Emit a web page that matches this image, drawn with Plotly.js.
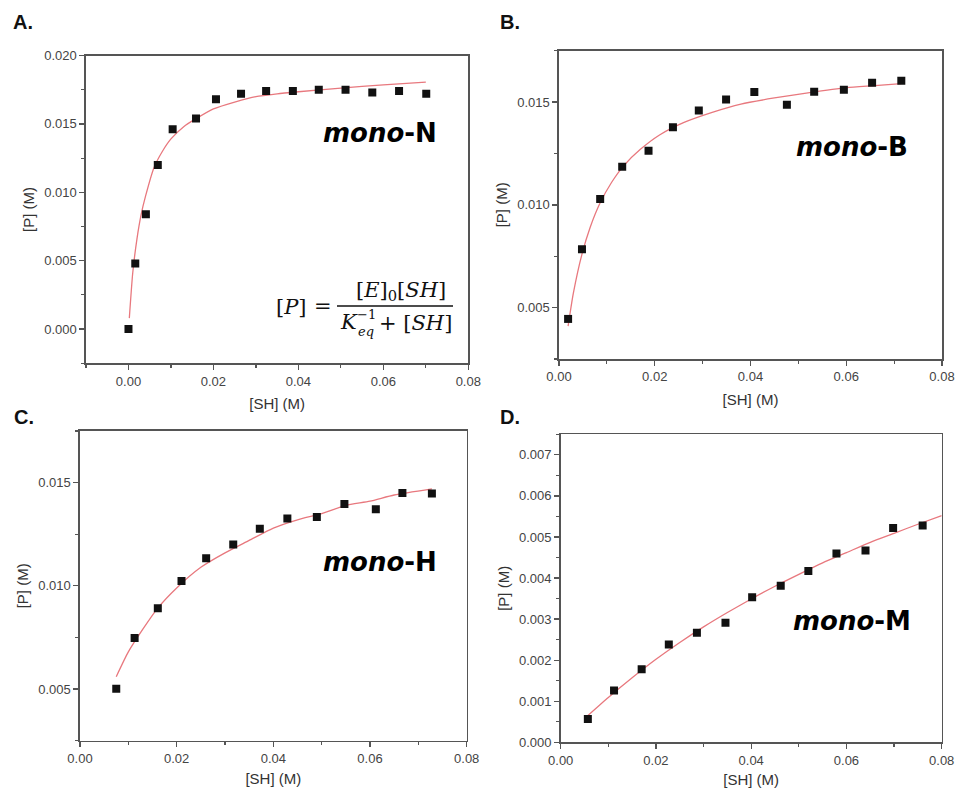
<!DOCTYPE html>
<html>
<head>
<meta charset="utf-8">
<script src="https://cdn.plot.ly/plotly-3.0.1.min.js"></script>
<style>
  html, body { margin: 0; padding: 0; background: #fff; }
  #chart { width: 956px; height: 791px; }
</style>
</head>
<body>
<div id="chart"></div>
<script>
// ---------- Data ----------
// Panel A: mono-N
const shA = [0.0000, 0.0016, 0.0041, 0.0069, 0.0104, 0.0159, 0.0206, 0.0265, 0.0324, 0.0387, 0.0448, 0.0511, 0.0574, 0.0637, 0.0701];
const pA  = [0.0000, 0.0048, 0.0084, 0.0120, 0.0146, 0.0154, 0.0168, 0.0172, 0.0174, 0.0174, 0.0175, 0.0175, 0.0173, 0.0174, 0.0172];
const fitShA = [0.0002, 0.001, 0.002, 0.003, 0.004, 0.006, 0.008, 0.010, 0.013, 0.016, 0.020, 0.025, 0.030, 0.035, 0.040, 0.050, 0.060, 0.070];
const fitPA  = [0.0008, 0.0041, 0.0066, 0.0084, 0.0097, 0.0118, 0.0130, 0.0139, 0.0148, 0.0154, 0.0161, 0.0166, 0.0170, 0.0172, 0.01735, 0.01762, 0.01785, 0.01805];

// Panel B: mono-B
const shB = [0.0019, 0.0048, 0.0086, 0.0132, 0.0187, 0.0238, 0.0292, 0.0349, 0.0408, 0.0476, 0.0533, 0.0595, 0.0654, 0.0715];
const pB  = [0.00445, 0.00784, 0.01028, 0.01185, 0.01263, 0.01378, 0.01459, 0.01513, 0.01549, 0.01487, 0.01550, 0.01560, 0.01594, 0.01604];
const fitShB = [0.0019, 0.003, 0.0048, 0.0065, 0.0086, 0.011, 0.0135, 0.017, 0.021, 0.026, 0.032, 0.038, 0.045, 0.052, 0.060, 0.066, 0.0715];
const fitPB  = [0.0041, 0.0057, 0.0076, 0.0089, 0.0101, 0.0111, 0.0119, 0.0127, 0.0134, 0.0140, 0.0145, 0.0149, 0.0152, 0.01545, 0.0157, 0.0158, 0.0159];

// Panel C: mono-H
const shC = [0.0075, 0.0113, 0.0161, 0.0210, 0.0261, 0.0317, 0.0372, 0.0429, 0.0490, 0.0547, 0.0612, 0.0667, 0.0728];
const pC  = [0.00502, 0.00748, 0.00891, 0.01023, 0.01134, 0.01200, 0.01276, 0.01326, 0.01334, 0.01397, 0.01371, 0.01450, 0.01447];
const fitShC = [0.0075, 0.010, 0.013, 0.016, 0.020, 0.025, 0.030, 0.035, 0.040, 0.045, 0.050, 0.055, 0.060, 0.065, 0.0728];
const fitPC  = [0.0056, 0.0068, 0.0079, 0.0089, 0.0099, 0.0109, 0.0116, 0.0122, 0.0128, 0.0132, 0.0135, 0.0139, 0.0141, 0.0144, 0.0147];

// Panel D: mono-M
const shD = [0.0057, 0.0112, 0.0170, 0.0227, 0.0286, 0.0346, 0.0402, 0.0462, 0.0520, 0.0579, 0.0640, 0.0698, 0.0760];
const pD  = [0.00057, 0.00126, 0.00178, 0.00238, 0.00267, 0.00291, 0.00353, 0.00381, 0.00417, 0.00460, 0.00467, 0.00522, 0.00528];
const fitShD = [0.0056, 0.010, 0.015, 0.020, 0.025, 0.030, 0.035, 0.040, 0.045, 0.050, 0.055, 0.060, 0.065, 0.070, 0.075, 0.080];
const fitPD  = [0.00064, 0.00109, 0.00157, 0.00202, 0.00243, 0.00281, 0.00316, 0.00349, 0.00380, 0.00409, 0.00437, 0.00462, 0.00487, 0.00509, 0.00531, 0.00552];

const panelLetters = ['A.', 'B.', 'C.', 'D.'];
const compoundSuffix = ['N', 'B', 'H', 'M'];
const xTitle = '[SH] (M)';
const yTitle = '[P] (M)';

// ---------- Styling / layout ----------
const W = 956, H = 791;
const px = x => x / W;
const py = y => 1 - y / H;

const markerStyle = { symbol: 'square', size: 8, color: '#111' };
const fitStyle = { color: '#e8787e', width: 1.3, shape: 'spline', smoothing: 0.6 };

function pts(x, y, xa, ya) {
  return { x: x, y: y, xaxis: xa, yaxis: ya, mode: 'markers', type: 'scatter',
           marker: markerStyle, showlegend: false, hoverinfo: 'x+y' };
}
function fit(x, y, xa, ya) {
  return { x: x, y: y, xaxis: xa, yaxis: ya, mode: 'lines', type: 'scatter',
           line: fitStyle, showlegend: false, hoverinfo: 'x+y' };
}

const traces = [
  fit(fitShA, fitPA, 'x', 'y'),   pts(shA, pA, 'x', 'y'),
  fit(fitShB, fitPB, 'x2', 'y2'), pts(shB, pB, 'x2', 'y2'),
  fit(fitShC, fitPC, 'x3', 'y3'), pts(shC, pC, 'x3', 'y3'),
  fit(fitShD, fitPD, 'x4', 'y4'), pts(shD, pD, 'x4', 'y4')
];

const tickFont = { family: 'Liberation Sans, Arial, sans-serif', size: 13, color: '#444' };
const titleFont = { family: 'Liberation Sans, Arial, sans-serif', size: 15, color: '#333' };

function axis(domain, range, dtick, minorDtick, fmt, anchor, title, standoff) {
  return {
    domain: domain, range: range, anchor: anchor,
    tick0: 0, dtick: dtick, tickformat: fmt,
    showline: true, linecolor: '#555', linewidth: 1.6, mirror: true,
    ticks: 'outside', ticklen: 5, tickwidth: 1.3, tickcolor: '#555',
    tickfont: tickFont,
    showgrid: false, zeroline: false,
    minor: { dtick: minorDtick, tick0: 0, ticks: 'outside', ticklen: 3, tickwidth: 1.2, tickcolor: '#555', showgrid: false },
    title: { text: title, font: titleFont, standoff: standoff },
    fixedrange: true
  };
}

const layout = {
  width: W, height: H,
  margin: { l: 0, r: 0, t: 0, b: 0 },
  paper_bgcolor: '#fff', plot_bgcolor: '#fff',
  showlegend: false,
  xaxis:  axis([px(86), px(468.3)],  [-0.01, 0.08], 0.02, 0.01, '.2f', 'y',  xTitle, 11),
  yaxis:  axis([py(363.3), py(55.5)], [-0.0025, 0.020], 0.005, 0.0025, '.3f', 'x', yTitle, 6),
  xaxis2: axis([px(559), px(942)],   [0, 0.08], 0.02, 0.01, '.2f', 'y2', xTitle, 11),
  yaxis2: axis([py(359), py(50.7)],  [0.0025, 0.0175], 0.005, 0.0025, '.3f', 'x2', yTitle, 6),
  xaxis3: axis([px(80), px(466.7)],  [0, 0.08], 0.02, 0.01, '.2f', 'y3', xTitle, 8),
  yaxis3: axis([py(740.7), py(431)], [0.0025, 0.0175], 0.005, 0.0025, '.3f', 'x3', yTitle, 6),
  xaxis4: axis([px(560.7), px(941.7)], [0, 0.08], 0.02, 0.01, '.2f', 'y4', xTitle, 8),
  yaxis4: axis([py(742.3), py(434.3)], [0, 0.0075], 0.001, 0.0005, '.3f', 'x4', yTitle, 6),
  annotations: [],
  shapes: []
};

function note(text, x, y, font, xanchor) {
  layout.annotations.push({
    text: text, x: px(x), y: py(y), xref: 'paper', yref: 'paper',
    xanchor: xanchor || 'center', yanchor: 'middle', showarrow: false, font: font
  });
}

// Panel letters
const letterFont = { family: 'Liberation Sans, Arial, sans-serif', size: 20, color: '#111' };
const letterPos = [[11, 22], [498, 22], [12, 417], [498, 417]];
panelLetters.forEach((t, i) => note('<b>' + t + '</b>', letterPos[i][0], letterPos[i][1], letterFont, 'left'));

// Compound labels
const monoFont = { family: 'DejaVu Sans, sans-serif', size: 26, color: '#000' };
const monoPos = [[380, 133], [852, 147], [380, 562], [852, 621]];
compoundSuffix.forEach((s, i) => note('<b><i>mono</i>-' + s + '</b>', monoPos[i][0], monoPos[i][1], monoFont));

// Equation (panel A)
const eqFont = { family: 'DejaVu Serif, serif', size: 21, color: '#111' };
const eqSmall = { family: 'DejaVu Serif, serif', size: 13, color: '#111' };
note('[<i>P</i>]', 291.5, 307, eqFont);
note('=', 323, 306, eqFont);
note('[<i>E</i>]<sub>0</sub>[<i>SH</i>]', 401, 291, eqFont);
note('<i>K</i>', 349, 322, eqFont);
note('−1', 366, 314, eqSmall);
note('<i>eq</i>', 366, 331, eqSmall);
note('+ [<i>SH</i>]', 415, 323, eqFont);
layout.shapes.push({ type: 'line', xref: 'paper', yref: 'paper',
  x0: px(337), x1: px(453), y0: py(306), y1: py(306), line: { color: '#111', width: 1.5 } });

Plotly.newPlot('chart', traces, layout, { displayModeBar: false, staticPlot: true });
</script>
</body>
</html>
